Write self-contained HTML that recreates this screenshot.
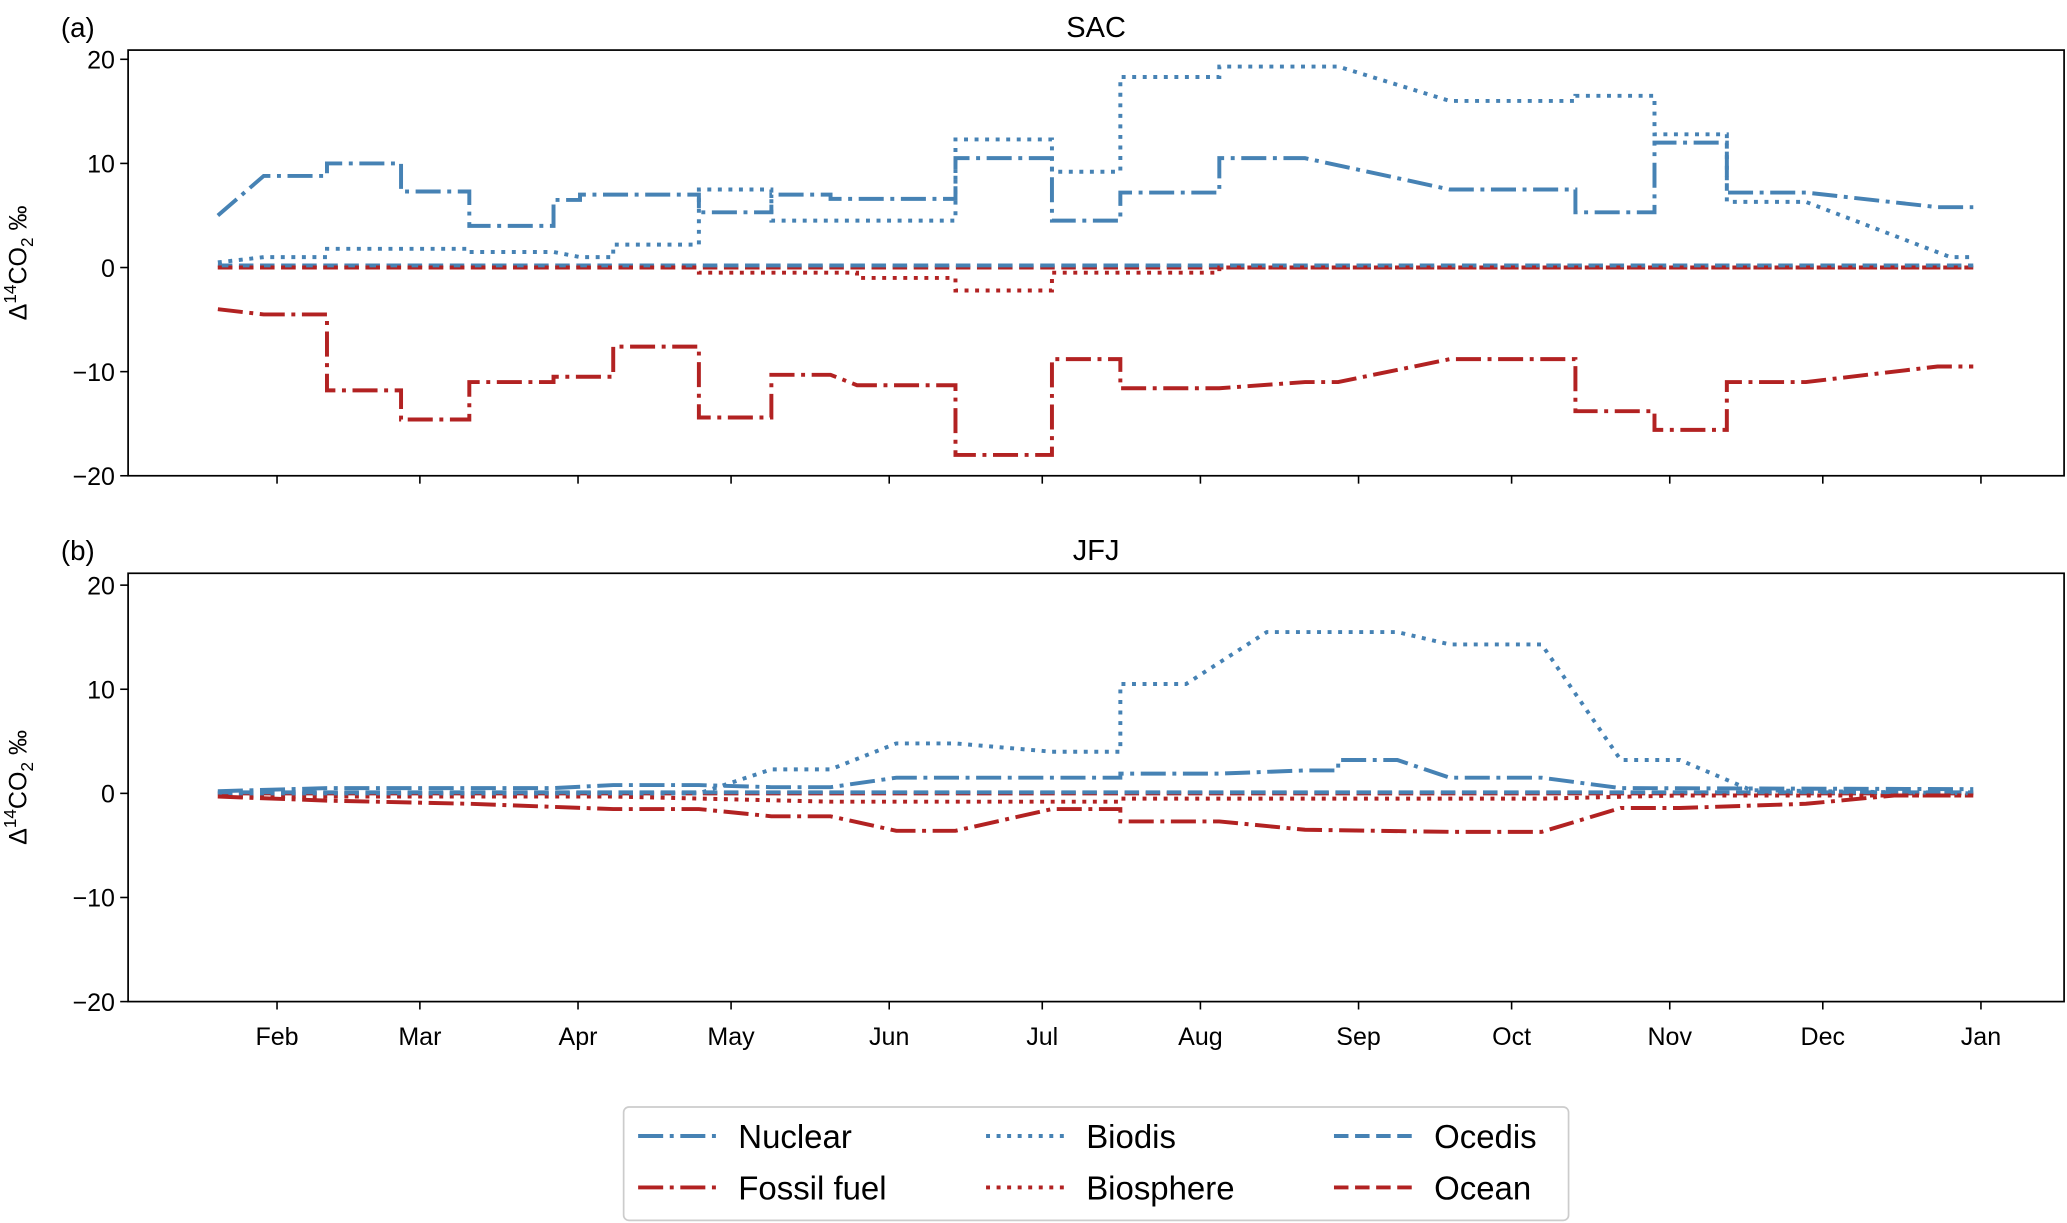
<!DOCTYPE html>
<html><head><meta charset="utf-8"><style>
html,body{margin:0;padding:0;background:#fff;}
svg{display:block;font-family:"Liberation Sans","DejaVu Sans",sans-serif;}
</style></head><body>
<svg id="chart" width="2067" height="1223" viewBox="0 0 1568 928" xmlns="http://www.w3.org/2000/svg"></svg>
<script>
// ---- data (day of year, value) ----
const monthLabels = ["Feb","Mar","Apr","May","Jun","Jul","Aug","Sep","Oct","Nov","Dec","Jan"];
const monthDays = [31,59,90,120,151,181,212,243,273,304,334,365];
const yTicks = [-20,-10,0,10,20];

const sacNuclearX = [19.4,28.4,40.8,40.8,55.3,55.3,68.7,68.7,85.2,85.2,90.4,90.4,113.7,113.7,127.9,127.9,139.5,139.5,164,164,182.9,182.9,196.3,196.3,215.7,215.7,232.5,260.9,285.5,285.5,301,301,315.2,315.2,330.7,356.5,363.5];
const sacNuclearY = [5,8.8,8.8,10,10,7.3,7.3,4,4,6.5,6.5,7,7,5.3,5.3,7,7,6.6,6.6,10.5,10.5,4.5,4.5,7.2,7.2,10.5,10.5,7.5,7.5,5.3,5.3,12,12,7.2,7.2,5.8,5.8];
const sacBiodisX = [19.4,28.4,40.8,40.8,68.7,68.7,85.2,90.4,96.9,96.9,113.7,113.7,127.9,127.9,164,164,182.9,182.9,196.3,196.3,215.7,215.7,239,260.9,285.5,285.5,301,301,315.2,315.2,330.7,359,363.5];
const sacBiodisY = [0.5,1,1,1.8,1.8,1.5,1.5,1,1,2.2,2.2,7.5,7.5,4.5,4.5,12.3,12.3,9.2,9.2,18.3,18.3,19.3,19.3,16,16,16.5,16.5,12.8,12.8,6.3,6.3,1,1];
const sacOcedisX = [19.4,363.5];
const sacOcedisY = [0.2,0.2];
const sacFossilX = [19.4,28.4,40.8,40.8,55.3,55.3,68.7,68.7,85.2,85.2,96.9,96.9,113.7,113.7,127.9,127.9,139.5,144.7,164,164,182.9,182.9,196.3,196.3,215.7,232.5,239,260.9,285.5,285.5,301,301,315.2,315.2,330.7,356.5,363.5];
const sacFossilY = [-4,-4.5,-4.5,-11.8,-11.8,-14.6,-14.6,-11,-11,-10.5,-10.5,-7.6,-7.6,-14.4,-14.4,-10.3,-10.3,-11.3,-11.3,-18,-18,-8.8,-8.8,-11.6,-11.6,-11,-11,-8.8,-8.8,-13.8,-13.8,-15.6,-15.6,-11,-11,-9.5,-9.5];
const sacBiosphereX = [19.4,113.7,113.7,144.7,144.7,164,164,182.9,182.9,215.7,215.7,363.5];
const sacBiosphereY = [0,0,-0.5,-0.5,-1,-1,-2.2,-2.2,-0.5,-0.5,0,0];
const sacOceanX = [19.4,363.5];
const sacOceanY = [0,0];

const jfjNuclearX = [19.4,40.8,85.2,96.9,113.7,127.9,139.5,152.4,164,182.9,196.3,196.3,215.7,232.5,239,239,250.6,260.9,278.9,294.4,363.5];
const jfjNuclearY = [0.2,0.5,0.5,0.8,0.8,0.6,0.6,1.5,1.5,1.5,1.5,1.9,1.9,2.2,2.2,3.2,3.2,1.5,1.5,0.5,0.4];
const jfjBiodisX = [19.4,113.7,127.9,139.5,152.4,164,182.9,196.3,196.3,209.2,225.0,250.6,260.9,278.9,294.4,306,320,363.5];
const jfjBiodisY = [0,0,2.3,2.3,4.8,4.8,4,4,10.5,10.5,15.5,15.5,14.3,14.3,3.2,3.2,0.3,0];
const jfjOcedisX = [19.4,363.5];
const jfjOcedisY = [0.1,0.1];
const jfjFossilX = [19.4,40.8,68.7,96.9,113.7,127.9,139.5,152.4,164,182.9,196.3,196.3,215.7,232.5,260.9,278.9,294.4,306,330.7,348,363.5];
const jfjFossilY = [-0.3,-0.7,-1,-1.5,-1.5,-2.2,-2.2,-3.6,-3.6,-1.5,-1.5,-2.7,-2.7,-3.5,-3.7,-3.7,-1.4,-1.4,-1,-0.2,-0.2];
const jfjBiosphereX = [19.4,96.9,139.5,182.9,196.3,196.3,278.9,306,363.5];
const jfjBiosphereY = [-0.3,-0.3,-0.8,-0.8,-0.8,-0.5,-0.5,-0.2,-0.2];
const jfjOceanX = [19.4,363.5];
const jfjOceanY = [0,0];

// ---- rendering ----
const NS = "http://www.w3.org/2000/svg";
const svg = document.getElementById("chart");
const BLUE = "#4682b4", RED = "#b22222";
const LW = 3;
const DASHDOT = [19,5,3,5].join(","), DOTTED = [3,5].join(","), DASHED = [11,5].join(",");
function mk(tag, attrs, parent){const e=document.createElementNS(NS,tag);for(const k in attrs)e.setAttribute(k,attrs[k]);(parent||svg).appendChild(e);return e;}
const xScale = d => 90 + d*3.871;
const L = 97, R = 1566;

function panel(top, bottom, y20, yNeg20, letter, title, series, showXLabels, prefix){
  const g = mk("g",{});
  
  
  const yScale = v => y20 + (20 - v)*(yNeg20 - y20)/40;
  yTicks.forEach(t=>{
    const y=yScale(t);
    const tl=mk("line",{x1:L-6,x2:L,y1:y,y2:y,stroke:"#000","stroke-width":1.2},g);
    
    
    const tx=mk("text",{x:L-10,y:y+7,"text-anchor":"end","font-size":19,fill:"#000"},g);
    tx.textContent = t<0 ? "\u2212"+Math.abs(t) : String(t);
    
    
  });
  monthDays.forEach((d,i)=>{
    const x=xScale(d);
    const tl=mk("line",{x1:x,x2:x,y1:bottom,y2:bottom+6,stroke:"#000","stroke-width":1.2},g);
    
    
    if(showXLabels){
      const tx=mk("text",{x:x,y:bottom+33,"text-anchor":"middle","font-size":19,fill:"#000"},g);
      tx.textContent = monthLabels[i];
      
      
    }
  });
  series.forEach(s=>{
    const pts = s.x.map((d,i)=>xScale(d).toFixed(1)+","+yScale(s.y[i]).toFixed(1)).join(" ");
    const p = mk("polyline",{points:pts,fill:"none",stroke:s.c,"stroke-width":LW,"stroke-dasharray":s.d,"stroke-linejoin":"miter"},g);
    
    
  });
  const fr=mk("rect",{x:L,y:top,width:R-L,height:bottom-top,fill:"none",stroke:"#000","stroke-width":1.3},g);
  
  
  const lt=mk("text",{x:46,y:top-10,"font-size":21,fill:"#000"},g);
  lt.textContent = letter;
  
  
  const tt=mk("text",{x:(L+R)/2,y:top-10,"text-anchor":"middle","font-size":22,fill:"#000"},g);
  tt.textContent = title;
  
  
  const yl=mk("text",{transform:`translate(20,${(top+bottom)/2}) rotate(-90)`,"text-anchor":"middle","font-size":19,fill:"#000"},g);
  yl.innerHTML = 'Δ<tspan dy="-8" font-size="13">14</tspan><tspan dy="8">CO</tspan><tspan dy="5" font-size="13">2</tspan><tspan dy="-5"> ‰</tspan>';
  
  
}

panel(38,361,45,361,"(a)","SAC",[
  {n:"ocean",x:sacOceanX,y:sacOceanY,c:RED,d:DASHED},
  {n:"ocedis",x:sacOcedisX,y:sacOcedisY,c:BLUE,d:DASHED},
  {n:"biosphere",x:sacBiosphereX,y:sacBiosphereY,c:RED,d:DOTTED},
  {n:"biodis",x:sacBiodisX,y:sacBiodisY,c:BLUE,d:DOTTED},
  {n:"fossil",x:sacFossilX,y:sacFossilY,c:RED,d:DASHDOT},
  {n:"nuclear",x:sacNuclearX,y:sacNuclearY,c:BLUE,d:DASHDOT}
],false,"sac");
panel(435,760,444,760,"(b)","JFJ",[
  {n:"ocean",x:jfjOceanX,y:jfjOceanY,c:RED,d:DASHED},
  {n:"ocedis",x:jfjOcedisX,y:jfjOcedisY,c:BLUE,d:DASHED},
  {n:"biosphere",x:jfjBiosphereX,y:jfjBiosphereY,c:RED,d:DOTTED},
  {n:"biodis",x:jfjBiodisX,y:jfjBiodisY,c:BLUE,d:DOTTED},
  {n:"fossil",x:jfjFossilX,y:jfjFossilY,c:RED,d:DASHDOT},
  {n:"nuclear",x:jfjNuclearX,y:jfjNuclearY,c:BLUE,d:DASHDOT}
],true,"jfj");

const lg = mk("g",{});


const lbox = mk("rect",{x:473,y:840,width:717,height:86,rx:4,fill:"#fff",stroke:"#ccc","stroke-width":1.3},lg);


const legendItems = [
  ["Nuclear",BLUE,DASHDOT,484,862],["Fossil fuel",RED,DASHDOT,484,901],
  ["Biodis",BLUE,DOTTED,748,862],["Biosphere",RED,DOTTED,748,901],
  ["Ocedis",BLUE,DASHED,1012,862],["Ocean",RED,DASHED,1012,901]
];
legendItems.forEach(it=>{
  const ln = mk("line",{x1:it[3],x2:it[3]+60,y1:it[4],y2:it[4],stroke:it[1],"stroke-width":LW,"stroke-dasharray":it[2]},lg);
  
  
  const tx = mk("text",{x:it[3]+76,y:it[4]+9,"font-size":25,fill:"#000"},lg);
  tx.textContent = it[0];
  
  
});
</script>
</body></html>
